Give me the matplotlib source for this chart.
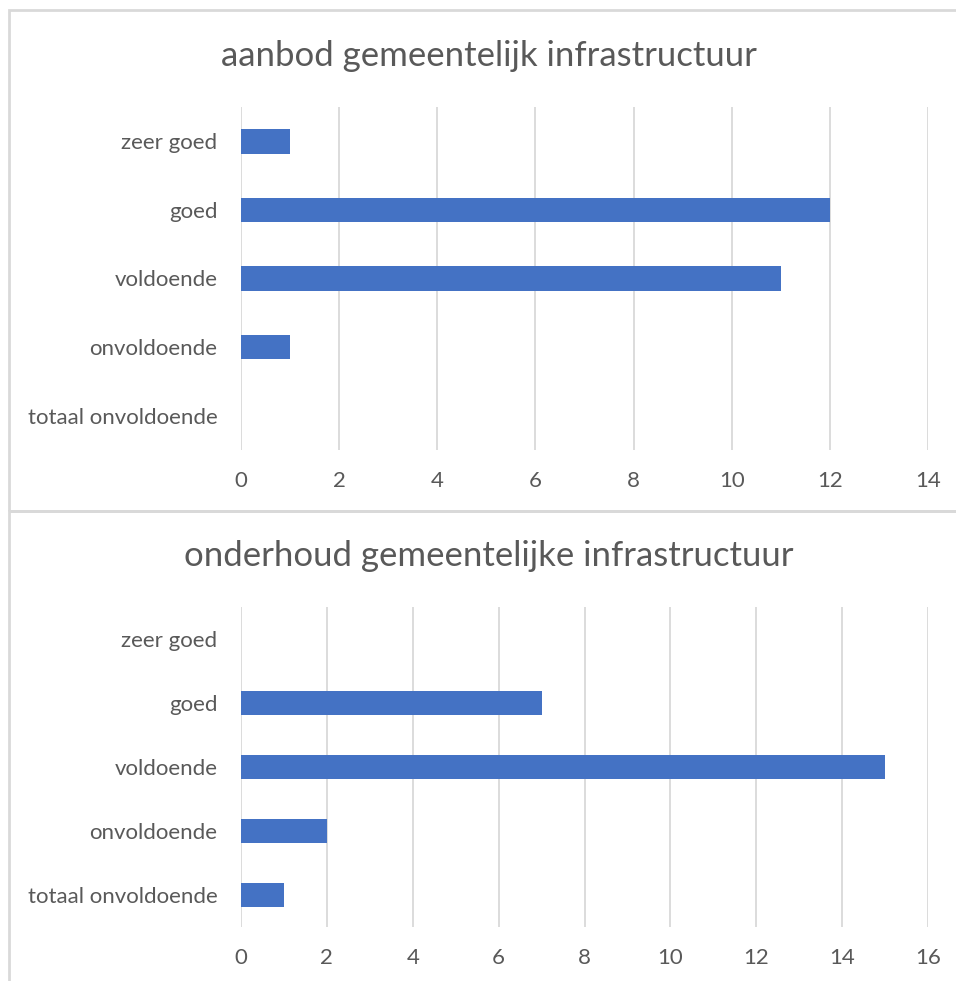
import matplotlib.pyplot as plt
from matplotlib.patches import Rectangle

categories = ["zeer goed", "goed", "voldoende", "onvoldoende", "totaal onvoldoende"]
aanbod = [1, 12, 11, 1, 0]
onderhoud = [0, 7, 15, 2, 1]

title_top = "aanbod gemeentelijk infrastructuur"
title_bottom = "onderhoud gemeentelijke infrastructuur"

W, H = 956, 981
BAR = "#4472C4"
GRID = "#D9D9D9"
TEXT = "#595959"

plt.rcParams['font.family'] = ['Lato', 'DejaVu Sans']

fig = plt.figure(figsize=(W / 100, H / 100), dpi=100)


def px_axes(left, top, right, bottom):
    return fig.add_axes([left / W, 1 - bottom / H, (right - left) / W, (bottom - top) / H])


def draw(ax, values, xmax, title, title_y):
    y = list(range(len(categories)))
    ax.barh(y, values, height=0.36, color=BAR, zorder=3)
    ax.set_ylim(len(categories) - 0.5, -0.5)
    ax.set_xlim(0, xmax)
    ax.set_xticks(range(0, xmax + 1, 2))
    ax.set_yticks(y)
    ax.set_yticklabels(categories)
    ax.grid(axis='x', color=GRID, linewidth=1.3, zorder=0)
    for s in ax.spines.values():
        s.set_visible(False)
    ax.tick_params(length=0, labelsize=16, colors=TEXT)
    ax.tick_params(axis='x', pad=15)
    ax.tick_params(axis='y', pad=17)
    fig.text(489 / W, 1 - title_y / H, title, ha='center', va='center',
             fontsize=25, color=TEXT)


ax1 = px_axes(241, 107, 928, 450)
draw(ax1, aanbod, 14, title_top, 56)
ax2 = px_axes(241, 607, 928, 927)
draw(ax2, onderhoud, 16, title_bottom, 556)

# chart borders
fig.patches.append(Rectangle((9 / W, 1 - 511 / H), 1.2, 501 / H, transform=fig.transFigure,
                             fill=False, edgecolor=GRID, linewidth=2, clip_on=False))
fig.patches.append(Rectangle((9 / W, 1 - 1100 / H), 1.2, 589 / H, transform=fig.transFigure,
                             fill=False, edgecolor=GRID, linewidth=2, clip_on=False))

fig.savefig("out.png", dpi=100)
